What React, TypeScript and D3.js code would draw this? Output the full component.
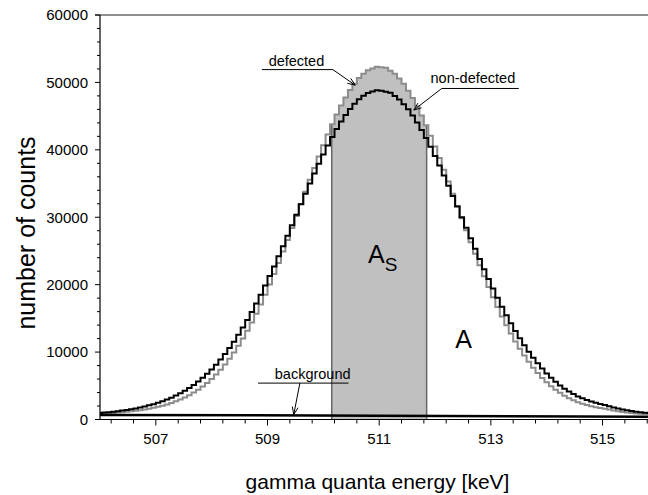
import React from "react";
import * as d3 from "d3";

// ---- data ----
const startEnergy = 506.0; // keV, centre of first channel
const channelWidth = 0.08; // keV per channel

const nonDefected = [
  960, 1020, 1080, 1150, 1230, 1320, 1420, 1530, 1640, 1780,
  1930, 2100, 2280, 2480, 2710, 2960, 3240, 3550, 3890, 4260,
  4680, 5130, 5630, 6180, 6770, 7420, 8130, 8890, 9720, 10600,
  11550, 12560, 13630, 14760, 15950, 17200, 18510, 19860, 21270, 22710,
  24200, 25710, 27250, 28800, 30370, 31930, 33480, 35000, 36490, 37930,
  39320, 40660, 41920, 43100, 44190, 45180, 46070, 46850, 47510, 48040,
  48440, 48650, 48820,
  48780, 48600, 48480, 47990, 47480, 46770, 46010,
  45080, 44060, 42950, 41740, 40450, 39090, 37670, 36200, 34690, 33150,
  31580, 30010, 28440, 26870, 25320, 23790, 22300, 20840, 19420, 18050,
  16740, 15470, 14270, 13130, 12040, 11020, 10060, 9170, 8330, 7550,
  6840, 6190, 5590, 5050, 4570, 4140, 3770, 3430, 3150, 2910,
  2680, 2480, 2310, 2140, 1970, 1790, 1630, 1480, 1360, 1250,
  1140, 1070, 1000, 950,
];

const defected = [
  850, 880, 920, 970, 1020, 1080, 1140, 1210, 1290, 1380,
  1490, 1600, 1740, 1880, 2050, 2240, 2450, 2690, 2960, 3270,
  3610, 3990, 4420, 4900, 5430, 6020, 6670, 7380, 8160, 9010,
  9930, 10930, 12000, 13160, 14380, 15680, 17060, 18500, 20020, 21590,
  23230, 24910, 26640, 28400, 30170, 31970, 33770, 35550, 37300, 39020,
  40680, 42280, 43800, 45230, 46560, 47780, 48870, 49820, 50640, 51290,
  51820, 52080, 52330,
  52240, 52160, 51740, 51290, 50570, 49790, 48780,
  47690, 46450, 45100, 43650, 42100, 40480, 38800, 37060, 35290, 33490,
  31680, 29870, 28080, 26310, 24580, 22880, 21240, 19650, 18130, 16670,
  15290, 13970, 12740, 11580, 10490, 9490, 8550, 7690, 6900, 6170,
  5510, 4930, 4410, 3950, 3540, 3170, 2850, 2570, 2340, 2150,
  1970, 1820, 1700, 1590, 1470, 1340, 1230, 1130, 1040, 970,
  900, 850, 810, 770,
];

const backgroundEnergy = [506.0, 511.0, 515.9];
const backgroundCounts = [680, 560, 420];

const windowLow = 510.15;
const windowHigh = 511.85;

const yTicks = [0, 10000, 20000, 30000, 40000, 50000, 60000];
const xMajorTicks = [507, 509, 511, 513, 515];

const FONT = "'Liberation Sans', Arial, Helvetica, sans-serif";

const W = 648;
const H = 495;

function arrowHead(x1: number, y1: number, x2: number, y2: number, len = 8, ang = 0.38) {
  const a = Math.atan2(y2 - y1, x2 - x1);
  const p1 = [x2 - len * Math.cos(a - ang), y2 - len * Math.sin(a - ang)];
  const p2 = [x2 - len * Math.cos(a + ang), y2 - len * Math.sin(a + ang)];
  return `M${p1[0]},${p1[1]}L${x2},${y2}L${p2[0]},${p2[1]}`;
}

export default function App() {
  const x = d3.scaleLinear().domain([506, 515.85]).range([100, 650]);
  const y = d3.scaleLinear().domain([0, 60000]).range([419.5, 15]);

  const energy = (i: number) => startEnergy + channelWidth * i;

  const stepLine = d3
    .line<number>()
    .x((_, i) => x(energy(i)))
    .y((v) => y(v))
    .curve(d3.curveStep);

  const stepArea = d3
    .area<number>()
    .x((_, i) => x(energy(i)))
    .y0(y(0))
    .y1((v) => y(v))
    .curve(d3.curveStep);

  const bgLine = d3
    .line<number>()
    .x((_, i) => x(backgroundEnergy[i]))
    .y((v) => y(v));

  const defAt = (e: number) => defected[Math.round((e - startEnergy) / channelWidth)];

  const minorY = d3.range(0, 60001, 2000).filter((v) => v % 10000 !== 0);
  const minorX = d3.range(0, 25).map((k) => 506.2 + 0.4 * k).filter((e) => e <= 515.85);

  const x0 = x(506);
  const yb = y(0);

  // annotations in data coordinates
  const defTxt = { e: 509.02, c: 52500 };
  const defUl = { e1: 508.9, e2: 510.17, c: 51900 };
  const defTip = { e: 510.57, c: 49600 };

  const ndTxt = { e: 511.92, c: 49850 };
  const ndUl = { e1: 512.12, e2: 513.5, c: 49100 };
  const ndTip = { e: 511.62, c: 45900 };

  const bgTxt = { e: 509.13, c: 5950 };
  const bgUl = { e1: 508.83, e2: 510.45, c: 5400 };
  const bgTip = { e: 509.47, c: 750 };

  return (
    <svg width={W} height={H} style={{ display: "block", position: "absolute", left: 0, top: 0 }} fontFamily={FONT}>
      <defs>
        <clipPath id="plot">
          <rect x={x0} y={0} width={W - x0} height={yb} />
        </clipPath>
        <clipPath id="win">
          <rect x={x(windowLow)} y={0} width={x(windowHigh) - x(windowLow)} height={yb} />
        </clipPath>
      </defs>
      <rect x={0} y={0} width={W} height={H} fill="#fff" />

      {/* S window fill */}
      <path d={stepArea(defected) || ""} fill="#c0c0c0" clipPath="url(#win)" />
      <line x1={x(windowLow)} x2={x(windowLow)} y1={yb} y2={y(defAt(windowLow))} stroke="#666" strokeWidth={1.5} />
      <line x1={x(windowHigh)} x2={x(windowHigh)} y1={yb} y2={y(defAt(windowHigh))} stroke="#666" strokeWidth={1.5} />

      <g clipPath="url(#plot)">
        <path d={stepLine(defected) || ""} fill="none" stroke="#8c8c8c" strokeWidth={2} />
        <path d={stepLine(nonDefected) || ""} fill="none" stroke="#000" strokeWidth={2} />
        <path d={bgLine(backgroundCounts) || ""} fill="none" stroke="#000" strokeWidth={2.5} />
      </g>

      {/* frame */}
      <line x1={95} x2={W} y1={y(60000)} y2={y(60000)} stroke="#6a6a6a" strokeWidth={1.6} />
      <line x1={x0} x2={x0} y1={y(60000)} y2={yb} stroke="#000" strokeWidth={1.2} />
      <line x1={95} x2={W} y1={yb} y2={yb} stroke="#000" strokeWidth={1.2} />

      {/* y ticks */}
      {yTicks.map((v) => (
        <g key={v}>
          <line x1={x0 - 5} x2={x0} y1={y(v)} y2={y(v)} stroke="#000" />
          <text x={88} y={y(v)} dy="0.36em" textAnchor="end" fontSize={15}>
            {v}
          </text>
        </g>
      ))}
      {minorY.map((v) => (
        <line key={v} x1={x0 - 3} x2={x0} y1={y(v)} y2={y(v)} stroke="#000" />
      ))}

      {/* x ticks */}
      {minorX.map((e) => {
        const major = xMajorTicks.some((m) => Math.abs(m - e) < 1e-6);
        return <line key={e} x1={x(e)} x2={x(e)} y1={yb} y2={yb + (major ? 6 : 4)} stroke="#000" />;
      })}
      {xMajorTicks.map((m) => (
        <text key={m} x={x(m)} y={444} textAnchor="middle" fontSize={15}>
          {m}
        </text>
      ))}

      {/* axis titles */}
      <text x={(240 + 515) / 2} y={489} textAnchor="middle" fontSize={21}>
        gamma quanta energy [keV]
      </text>
      <text transform={`translate(35,233) rotate(-90)`} textAnchor="middle" fontSize={25}>
        number of counts
      </text>

      {/* area labels */}
      <text x={x(510.8)} y={y(23200)} fontSize={25}>
        A
        <tspan fontSize={19} dy={8}>
          S
        </tspan>
      </text>
      <text x={x(512.36)} y={y(10600)} fontSize={25}>
        A
      </text>

      {/* annotations */}
      <text x={x(defTxt.e)} y={y(defTxt.c)} fontSize={14.5}>
        defected
      </text>
      <path
        d={`M${x(defUl.e1)},${y(defUl.c)}L${x(defUl.e2)},${y(defUl.c)}L${x(defTip.e)},${y(defTip.c)}`}
        fill="none"
        stroke="#000"
      />
      <path d={arrowHead(x(defUl.e2), y(defUl.c), x(defTip.e), y(defTip.c))} fill="none" stroke="#000" />

      <text x={x(ndTxt.e)} y={y(ndTxt.c)} fontSize={14.5}>
        non-defected
      </text>
      <path
        d={`M${x(ndUl.e2)},${y(ndUl.c)}L${x(ndUl.e1)},${y(ndUl.c)}L${x(ndTip.e)},${y(ndTip.c)}`}
        fill="none"
        stroke="#000"
      />
      <path d={arrowHead(x(ndUl.e1), y(ndUl.c), x(ndTip.e), y(ndTip.c))} fill="none" stroke="#000" />

      <text x={x(bgTxt.e)} y={y(bgTxt.c)} fontSize={14.5}>
        background
      </text>
      <path
        d={`M${x(bgUl.e1)},${y(bgUl.c)}L${x(bgUl.e2)},${y(bgUl.c)}M${x(509.58)},${y(bgUl.c)}L${x(bgTip.e)},${y(bgTip.c)}`}
        fill="none"
        stroke="#000"
      />
      <path d={arrowHead(x(509.58), y(bgUl.c), x(bgTip.e), y(bgTip.c))} fill="none" stroke="#000" />
    </svg>
  );
}
